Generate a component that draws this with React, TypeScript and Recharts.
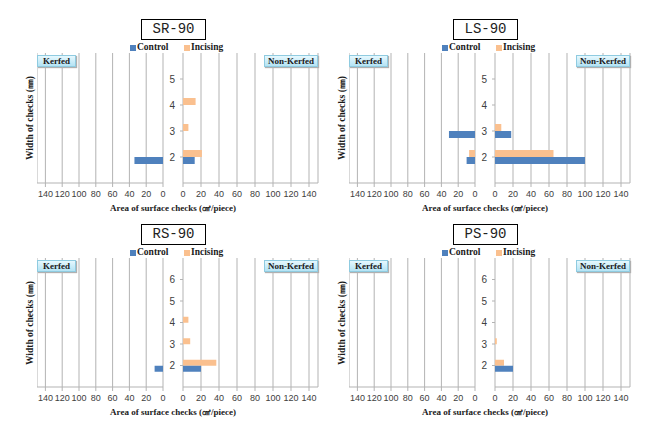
import React from 'react';
import { BarChart, Bar, XAxis, YAxis, CartesianGrid } from 'recharts';

const xTicks = [0, 20, 40, 60, 80, 100, 120, 140];

// width of checks (mm)
const widthsTop = [2, 3, 4, 5];
const widthsBottom = [2, 3, 4, 5, 6];

// SR-90
const srKerfedControl = [34, 0, 0, 0];
const srKerfedIncising = [0, 0, 0, 0];
const srNonControl = [13, 0, 0, 0];
const srNonIncising = [21, 6, 14, 0];

// LS-90
const lsKerfedControl = [10, 31, 0, 0];
const lsKerfedIncising = [7, 0, 0, 0];
const lsNonControl = [100, 18, 0, 0];
const lsNonIncising = [65, 7, 0, 0];

// RS-90
const rsKerfedControl = [10, 0, 0, 0, 0];
const rsKerfedIncising = [0, 0, 0, 0, 0];
const rsNonControl = [20, 0, 0, 0, 0];
const rsNonIncising = [37, 8, 6, 0, 0];

// PS-90
const psKerfedControl = [0, 0, 0, 0, 0];
const psKerfedIncising = [0, 0, 0, 0, 0];
const psNonControl = [20, 0, 0, 0, 0];
const psNonIncising = [10, 2, 0, 0, 0];

const BLUE = '#4f81bd';
const ORANGE = '#fac08f';
const GRID = '#b3b3b3';
const serif = '"Liberation Serif", "Times New Roman", serif';
const sans = '"Liberation Sans", Arial, sans-serif';

const tickStyle = { fontSize: 9, fill: '#404040', fontFamily: sans };

interface PanelProps {
  ox: number;
  plotTop: number;
  plotBottom: number;
  title: string;
  widths: number[];
  kc: number[];
  ki: number[];
  nc: number[];
  ni: number[];
  barSize: number;
}

const labelBox: React.CSSProperties = {
  position: 'absolute',
  height: 12,
  boxSizing: 'border-box',
  border: '1px solid #8fcbe0',
  background: 'linear-gradient(#e6f8fe, #b4e3f4)',
  boxShadow: '1px 1px 1px #b0b0b0',
  fontFamily: serif,
  fontWeight: 'bold',
  fontSize: 9,
  lineHeight: '10px',
  textAlign: 'center',
  color: '#1a1a1a',
};

const Panel: React.FC<PanelProps> = ({ ox, plotTop, plotBottom, title, widths, kc, ki, nc, ni, barSize }) => {
  const plotH = plotBottom - plotTop;
  const yMax = widths[widths.length - 1] + 1;
  const kerfed = widths.map((w, i) => ({ w, control: kc[i], incising: ki[i] }));
  const nonKerfed = widths.map((w, i) => ({ w, control: nc[i], incising: ni[i] }));
  const midY = (plotTop + plotBottom) / 2;

  return (
    <>
      <div style={{ position: 'absolute', left: ox + 37, top: plotTop }}>
        <BarChart
          width={126 + 8}
          height={plotH + 30}
          data={kerfed}
          layout="vertical"
          margin={{ top: 0, right: 8, bottom: 0, left: 0 }}
          barGap={0}
          barSize={barSize}
        >
          <CartesianGrid horizontal={false} stroke={GRID} />
          <XAxis
            type="number"
            domain={[0, 150]}
            ticks={xTicks}
            reversed
            interval={0}
            height={30}
            axisLine={{ stroke: GRID }}
            tickLine={{ stroke: GRID }}
            tickSize={4}
            tickMargin={4}
            tick={tickStyle}
          />
          <YAxis type="number" dataKey="w" domain={[1, yMax]} reversed hide />
          <Bar dataKey="incising" fill={ORANGE} isAnimationActive={false} />
          <Bar dataKey="control" fill={BLUE} isAnimationActive={false} />
        </BarChart>
      </div>
      <div style={{ position: 'absolute', left: ox + 163, top: plotTop }}>
        <BarChart
          width={20 + 135 + 2}
          height={plotH + 30}
          data={nonKerfed}
          layout="vertical"
          margin={{ top: 0, right: 2, bottom: 0, left: 0 }}
          barGap={0}
          barSize={barSize}
        >
          <CartesianGrid horizontal={false} stroke={GRID} />
          <XAxis
            type="number"
            domain={[0, 150]}
            ticks={xTicks}
            interval={0}
            height={30}
            axisLine={{ stroke: GRID }}
            tickLine={{ stroke: GRID }}
            tickSize={4}
            tickMargin={4}
            tick={tickStyle}
          />
          <YAxis
            type="number"
            dataKey="w"
            domain={[1, yMax]}
            reversed
            ticks={widths}
            interval={0}
            width={20}
            axisLine={false}
            tickLine={{ stroke: GRID }}
            tickSize={3}
            tickMargin={5}
            tick={{ ...tickStyle, fontSize: 10 }}
          />
          <Bar dataKey="incising" fill={ORANGE} isAnimationActive={false} />
          <Bar dataKey="control" fill={BLUE} isAnimationActive={false} />
        </BarChart>
      </div>

      {/* title */}
      <div
        style={{
          position: 'absolute',
          left: ox + 141,
          top: plotTop - 34,
          width: 65,
          height: 21,
          boxSizing: 'border-box',
          border: '1px solid #000',
          background: '#fff',
          fontFamily: '"Liberation Mono", monospace',
          fontSize: 14,
          lineHeight: '19px',
          textAlign: 'center',
          color: '#222',
        }}
      >
        {title}
      </div>

      {/* legend */}
      <div style={{ position: 'absolute', left: ox + 130, top: plotTop - 8, width: 6, height: 6, background: BLUE }} />
      <div
        style={{ position: 'absolute', left: ox + 137, top: plotTop - 11, fontFamily: serif, fontWeight: 'bold', fontSize: 9.5, color: '#1a1a1a' }}
      >
        Control
      </div>
      <div style={{ position: 'absolute', left: ox + 184, top: plotTop - 8, width: 6, height: 6, background: ORANGE }} />
      <div
        style={{ position: 'absolute', left: ox + 191, top: plotTop - 11, fontFamily: serif, fontWeight: 'bold', fontSize: 9.5, color: '#1a1a1a' }}
      >
        Incising
      </div>

      {/* side labels */}
      <div style={{ ...labelBox, left: ox + 37, top: plotTop + 2, width: 39 }}>Kerfed</div>
      <div style={{ ...labelBox, left: ox + 264, top: plotTop + 2, width: 54 }}>Non-Kerfed</div>

      {/* axis titles */}
      <div
        style={{
          position: 'absolute',
          left: ox + 173 - 100,
          top: plotBottom + 19,
          width: 200,
          textAlign: 'center',
          fontFamily: serif,
          fontWeight: 'bold',
          fontSize: 9,
          color: '#1a1a1a',
          whiteSpace: 'nowrap',
        }}
      >
        Area of surface checks (㎠/piece)
      </div>
      <div
        style={{
          position: 'absolute',
          left: ox + 30 - 60,
          top: midY - 6,
          width: 120,
          height: 12,
          lineHeight: '12px',
          textAlign: 'center',
          transform: 'rotate(-90deg)',
          fontFamily: serif,
          fontWeight: 'bold',
          fontSize: 9.5,
          color: '#1a1a1a',
          whiteSpace: 'nowrap',
        }}
      >
        Width of checks (㎜)
      </div>
    </>
  );
};

export default function App() {
  return (
    <div style={{ position: 'absolute', left: 0, top: 0, width: 651, height: 421, background: '#fff', overflow: 'hidden' }}>
      <Panel ox={0} plotTop={53} plotBottom={183} title="SR-90" widths={widthsTop}
        kc={srKerfedControl} ki={srKerfedIncising} nc={srNonControl} ni={srNonIncising} barSize={7} />
      <Panel ox={312} plotTop={53} plotBottom={183} title="LS-90" widths={widthsTop}
        kc={lsKerfedControl} ki={lsKerfedIncising} nc={lsNonControl} ni={lsNonIncising} barSize={7} />
      <Panel ox={0} plotTop={258} plotBottom={387} title="RS-90" widths={widthsBottom}
        kc={rsKerfedControl} ki={rsKerfedIncising} nc={rsNonControl} ni={rsNonIncising} barSize={6} />
      <Panel ox={312} plotTop={258} plotBottom={387} title="PS-90" widths={widthsBottom}
        kc={psKerfedControl} ki={psKerfedIncising} nc={psNonControl} ni={psNonIncising} barSize={6} />
    </div>
  );
}
